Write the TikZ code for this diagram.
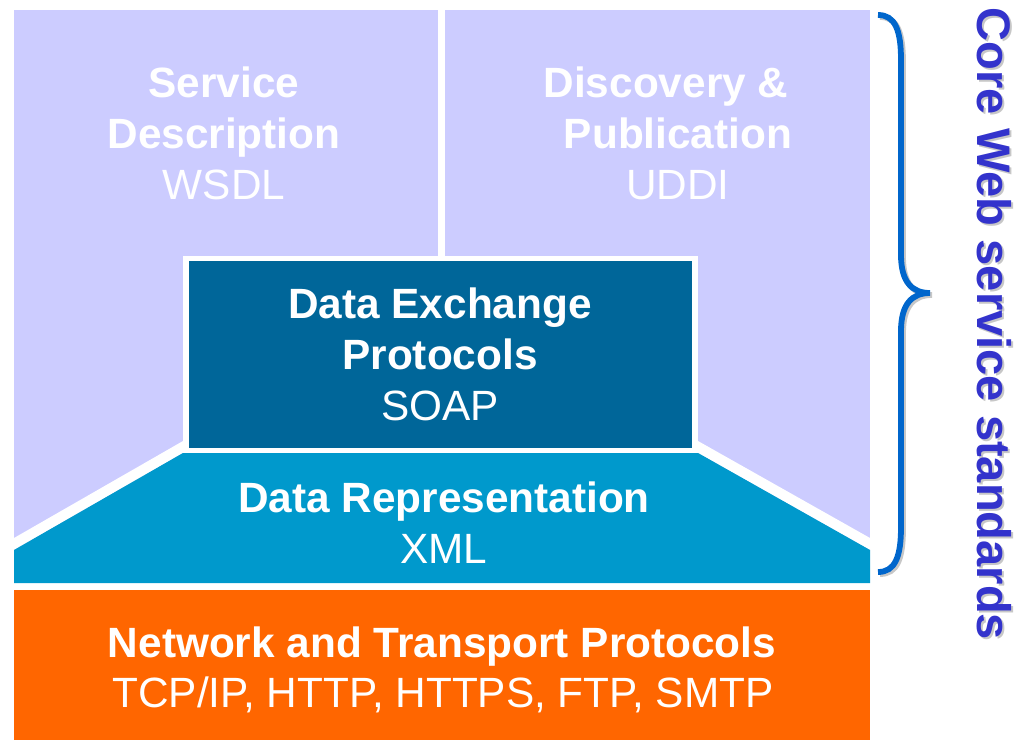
\documentclass[tikz,border=0pt]{standalone}
\usepackage{fontspec}
\setmainfont{Liberation Sans}
\definecolor{lavender}{HTML}{CCCCFF}
\definecolor{soapblue}{HTML}{006699}
\definecolor{xmlblue}{HTML}{0099CC}
\definecolor{netorange}{HTML}{FF6600}
\definecolor{bracecol}{HTML}{0066CC}
\definecolor{stdcol}{HTML}{3333CC}
\tikzset{%
    inner sep=0pt,%
    outer sep=0pt,%
    layer title/.style={font=\fontsize{24.1}{28}\selectfont\bfseries,
    text=white, anchor=base},%
    layer name/.style={font=\fontsize{24.1}{28}\selectfont,
    text=white, anchor=base},%
    side title/.style={font=\fontsize{26.8}{30}\selectfont\bfseries,
    rotate=-90, anchor=base}%
    }

\begin{document}
\begin{tikzpicture}[x=0.02cm,y=-0.02cm]
    \useasboundingbox (0,0) rectangle (1023,740);
    % upper panels
    \fill[lavender] (14,10) rectangle (438,550);
    \fill[lavender] (445,10) rectangle (870,550);
    \fill[white] (14,538) -- (183,441) -- (183,453) -- (14,550) -- cycle;
    \fill[white] (870,538) -- (698,441) -- (698,453) -- (870,550) -- cycle;
    % XML layer
    \fill[xmlblue] (183,453) -- (698,453) -- (870,550) -- (870,583)
        -- (14,583) -- (14,550) -- cycle;
    % SOAP box
    \filldraw[fill=soapblue, draw=white, line width=3.4pt]
        (186,258.5) rectangle (695,450.5);
    % network layer
    \fill[netorange] (14,590) rectangle (870,740);

    \node[layer title] (SD1) at (224,97) {Service};
    \node[layer title] (SD2) at (224,148) {Description};
    \node[layer name] (WSDL) at (224,199) {WSDL};

    \node[layer title] (DP1) at (666,97) {Discovery \&};
    \node[layer title] (DP2) at (678,148) {Publication};
    \node[layer name] (UDDI) at (678,199) {UDDI};

    \node[layer title] (DE1) at (440,318) {Data Exchange};
    \node[layer title] (DE2) at (440,369) {Protocols};
    \node[layer name] (SOAP) at (440,420) {SOAP};

    \node[layer title] (DR) at (444,512) {Data Representation};
    \node[layer name] (XML) at (444,563) {XML};

    \node[layer title] (NT) at (442,657) {Network and Transport Protocols};
    \node[layer name] (TCP) at (443,707) {TCP/IP, HTTP, HTTPS, FTP, SMTP};

    % brace with its shadow
    \foreach \dx/\col in {2/black!22, 0/bracecol}{
    \draw[\col, line width=3.3pt]
        (878+\dx,15+\dx) .. controls (895+\dx,15+\dx) and (901+\dx,30+\dx) .. (901+\dx,60+\dx)
        -- (901+\dx,255+\dx) .. controls (901+\dx,282+\dx) and (912+\dx,293+\dx) .. (930+\dx,293+\dx)
        .. controls (912+\dx,293+\dx) and (901+\dx,304+\dx) .. (901+\dx,331+\dx)
        -- (901+\dx,527+\dx) .. controls (901+\dx,557+\dx) and (895+\dx,572+\dx) .. (878+\dx,572+\dx);
    }

    \node[side title, text=black!22] (CWSs) at (979,326) {Core Web service standards};
    \node[side title, text=stdcol] (CWS) at (977,324) {Core Web service standards};
\end{tikzpicture}
\end{document}
